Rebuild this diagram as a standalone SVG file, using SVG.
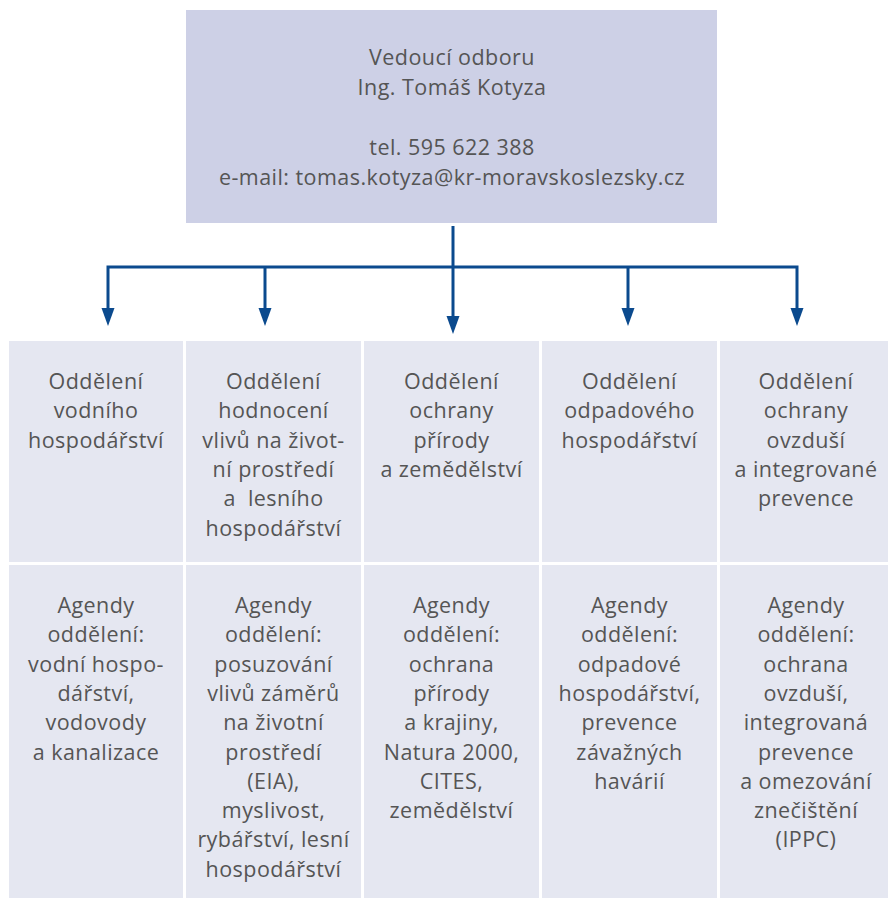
<svg xmlns="http://www.w3.org/2000/svg" width="888" height="899" viewBox="0 0 888 899">
<defs>
<style>
.t{font-family:"Open Sans","Liberation Sans",sans-serif;font-size:21.5px;letter-spacing:0.45px;fill:#555555;text-anchor:middle}
.cell{fill:#e5e7f1}
.top{fill:#cdd0e6}
.ln{fill:none;stroke:#0b4a8e;stroke-width:3}
.ah{fill:#0b4a8e}
</style>
</defs>
<rect width="888" height="899" fill="#ffffff"/>
<g id="head">
<rect class="top" x="186" y="10" width="531" height="213"/>
<text class="t" x="452" y="65">Vedoucí odboru</text>
<text class="t" x="452" y="95">Ing. Tomáš Kotyza</text>
<text class="t" x="452" y="155">tel. 595 622 388</text>
<text class="t" x="452" y="185">e-mail: tomas.kotyza@kr-moravskoslezsky.cz</text>
</g>
<g id="connectors">
<path class="ln" d="M453 226 V318"/>
<path class="ln" d="M108 310 V267 H797 V310"/>
<path class="ln" d="M265 267 V310"/>
<path class="ln" d="M628 267 V310"/>
<polygon class="ah" points="101.5,308 114.5,308 108,326"/>
<polygon class="ah" points="258.5,308 271.5,308 265,326"/>
<polygon class="ah" points="446.5,316 459.5,316 453,334"/>
<polygon class="ah" points="621.5,308 634.5,308 628,326"/>
<polygon class="ah" points="790.5,308 803.5,308 797,326"/>
</g>
<g id="dept1">
<rect class="cell" x="9" y="341" width="174" height="221"/>
<text class="t" x="96" y="389">Oddělení</text>
<text class="t" x="96" y="418.3">vodního</text>
<text class="t" x="96" y="447.6">hospodářství</text>
</g>
<g id="dept2">
<rect class="cell" x="186" y="341" width="175" height="221"/>
<text class="t" x="273.5" y="389">Oddělení</text>
<text class="t" x="273.5" y="418.3">hodnocení</text>
<text class="t" x="273.5" y="447.6">vlivů na život-</text>
<text class="t" x="273.5" y="476.9">ní prostředí</text>
<text class="t" x="273.5" y="506.2" xml:space="preserve">a  lesního</text>
<text class="t" x="273.5" y="535.5">hospodářství</text>
</g>
<g id="dept3">
<rect class="cell" x="364" y="341" width="175" height="221"/>
<text class="t" x="451.5" y="389">Oddělení</text>
<text class="t" x="451.5" y="418.3">ochrany</text>
<text class="t" x="451.5" y="447.6">přírody</text>
<text class="t" x="451.5" y="476.9">a zemědělství</text>
</g>
<g id="dept4">
<rect class="cell" x="542" y="341" width="175" height="221"/>
<text class="t" x="629.5" y="389">Oddělení</text>
<text class="t" x="629.5" y="418.3">odpadového</text>
<text class="t" x="629.5" y="447.6">hospodářství</text>
</g>
<g id="dept5">
<rect class="cell" x="720" y="341" width="168" height="221"/>
<text class="t" x="806" y="389">Oddělení</text>
<text class="t" x="806" y="418.3">ochrany</text>
<text class="t" x="806" y="447.6">ovzduší</text>
<text class="t" x="806" y="476.9">a integrované</text>
<text class="t" x="806" y="506.2">prevence</text>
</g>
<g id="agenda1">
<rect class="cell" x="9" y="565" width="174" height="333"/>
<text class="t" x="96" y="613">Agendy</text>
<text class="t" x="96" y="642.3">oddělení:</text>
<text class="t" x="96" y="671.6">vodní hospo-</text>
<text class="t" x="96" y="700.9">dářství,</text>
<text class="t" x="96" y="730.2">vodovody</text>
<text class="t" x="96" y="759.5">a kanalizace</text>
</g>
<g id="agenda2">
<rect class="cell" x="186" y="565" width="175" height="333"/>
<text class="t" x="273.5" y="613">Agendy</text>
<text class="t" x="273.5" y="642.3">oddělení:</text>
<text class="t" x="273.5" y="671.6">posuzování</text>
<text class="t" x="273.5" y="700.9">vlivů záměrů</text>
<text class="t" x="273.5" y="730.2">na životní</text>
<text class="t" x="273.5" y="759.5">prostředí</text>
<text class="t" x="273.5" y="788.8">(EIA),</text>
<text class="t" x="273.5" y="818.1">myslivost,</text>
<text class="t" x="273.5" y="847.4">rybářství, lesní</text>
<text class="t" x="273.5" y="876.7">hospodářství</text>
</g>
<g id="agenda3">
<rect class="cell" x="364" y="565" width="175" height="333"/>
<text class="t" x="451.5" y="613">Agendy</text>
<text class="t" x="451.5" y="642.3">oddělení:</text>
<text class="t" x="451.5" y="671.6">ochrana</text>
<text class="t" x="451.5" y="700.9">přírody</text>
<text class="t" x="451.5" y="730.2">a krajiny,</text>
<text class="t" x="451.5" y="759.5">Natura 2000,</text>
<text class="t" x="451.5" y="788.8">CITES,</text>
<text class="t" x="451.5" y="818.1">zemědělství</text>
</g>
<g id="agenda4">
<rect class="cell" x="542" y="565" width="175" height="333"/>
<text class="t" x="629.5" y="613">Agendy</text>
<text class="t" x="629.5" y="642.3">oddělení:</text>
<text class="t" x="629.5" y="671.6">odpadové</text>
<text class="t" x="629.5" y="700.9">hospodářství,</text>
<text class="t" x="629.5" y="730.2">prevence</text>
<text class="t" x="629.5" y="759.5">závažných</text>
<text class="t" x="629.5" y="788.8">havárií</text>
</g>
<g id="agenda5">
<rect class="cell" x="720" y="565" width="168" height="333"/>
<text class="t" x="806" y="613">Agendy</text>
<text class="t" x="806" y="642.3">oddělení:</text>
<text class="t" x="806" y="671.6">ochrana</text>
<text class="t" x="806" y="700.9">ovzduší,</text>
<text class="t" x="806" y="730.2">integrovaná</text>
<text class="t" x="806" y="759.5">prevence</text>
<text class="t" x="806" y="788.8">a omezování</text>
<text class="t" x="806" y="818.1">znečištění</text>
<text class="t" x="806" y="847.4">(IPPC)</text>
</g>
</svg>
